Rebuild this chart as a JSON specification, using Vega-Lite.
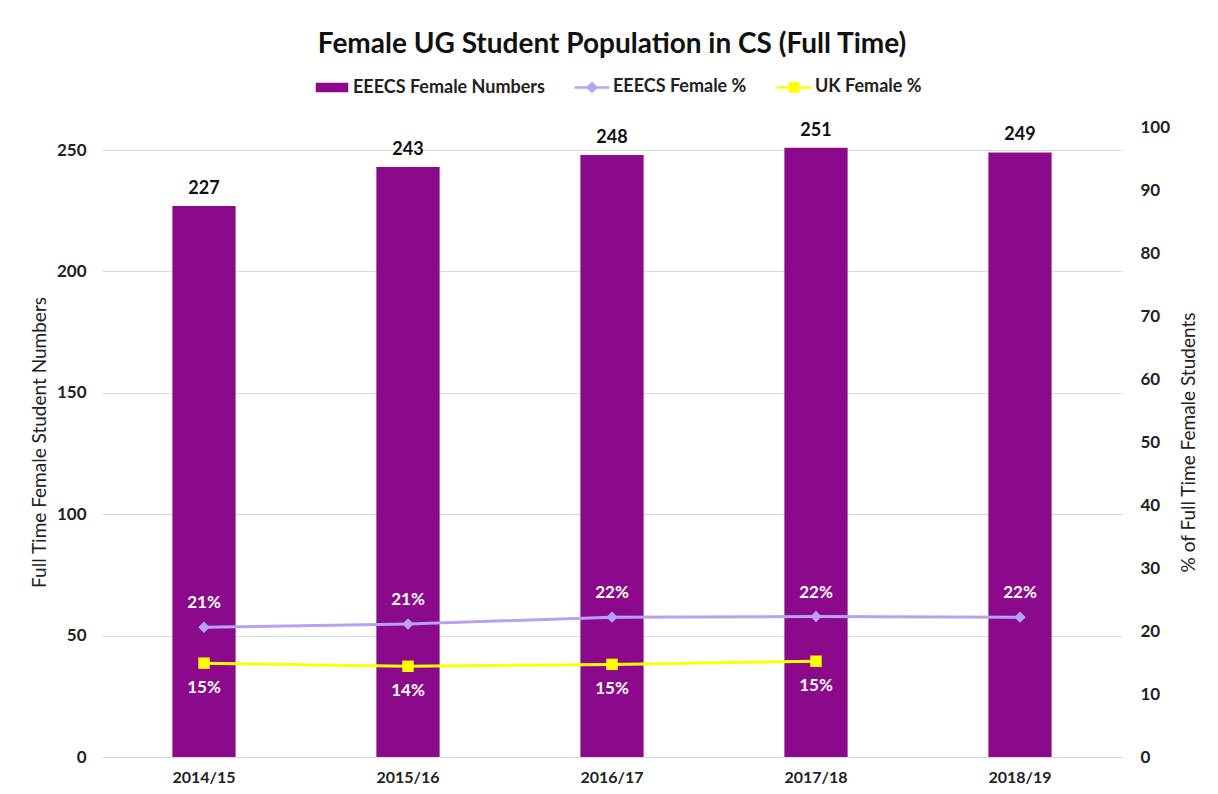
{
  "$schema": "https://vega.github.io/schema/vega-lite/v6.json",
  "width": 1020,
  "height": 630,
  "autosize": {"type": "none"},
  "padding": {"left": 102, "top": 127, "right": 96, "bottom": 37},
  "background": "white",
  "config": {
    "font": "Lato",
    "view": {"stroke": null},
    "axis": {"labelFont": "Lato", "titleFont": "Lato"},
    "legend": {
      "title": null,
      "orient": "none",
      "direction": "horizontal",
      "legendX": 221,
      "legendY": -49,
      "labelFont": "Lato",
      "labelFontSize": 18,
      "labelFontWeight": "bold",
      "labelColor": "#222222",
      "labelOffset": 12,
      "labelLimit": 0,
      "columnPadding": 24,
      "symbolSize": 144
    }
  },
  "title": {
    "text": "Female UG Student Population in CS (Full Time)",
    "font": "Lato",
    "fontSize": 28,
    "fontWeight": "bold",
    "color": "#111111",
    "anchor": "middle",
    "offset": 19
  },
  "datasets": {
    "bars": [
      {"year": "2014/15", "count": 227},
      {"year": "2015/16", "count": 243},
      {"year": "2016/17", "count": 248},
      {"year": "2017/18", "count": 251},
      {"year": "2018/19", "count": 249}
    ],
    "pct": [
      {"year": "2014/15", "series": "EEECS Female %", "pct": 20.6, "label": "21%"},
      {"year": "2015/16", "series": "EEECS Female %", "pct": 21.1, "label": "21%"},
      {"year": "2016/17", "series": "EEECS Female %", "pct": 22.2, "label": "22%"},
      {"year": "2017/18", "series": "EEECS Female %", "pct": 22.3, "label": "22%"},
      {"year": "2018/19", "series": "EEECS Female %", "pct": 22.2, "label": "22%"},
      {"year": "2014/15", "series": "UK Female %", "pct": 14.9, "label": "15%"},
      {"year": "2015/16", "series": "UK Female %", "pct": 14.4, "label": "14%"},
      {"year": "2016/17", "series": "UK Female %", "pct": 14.7, "label": "15%"},
      {"year": "2017/18", "series": "UK Female %", "pct": 15.2, "label": "15%"}
    ]
  },
  "encoding": {
    "x": {
      "field": "year",
      "type": "nominal",
      "scale": {"paddingInner": 0.69, "paddingOuter": 0.345},
      "axis": {
        "title": null,
        "labelAngle": 0,
        "labelFontSize": 16,
        "labelFontWeight": "bold",
        "labelColor": "#222222",
        "labelPadding": 12,
        "domain": false,
        "ticks": false
      }
    }
  },
  "layer": [
    {
      "data": {"name": "bars"},
      "layer": [
        {
          "mark": {"type": "bar", "opacity": 1},
          "encoding": {
            "y": {
              "field": "count",
              "type": "quantitative",
              "scale": {"domain": [0, 259.5], "nice": false},
              "axis": {
                "orient": "left",
                "title": "Full Time Female Student Numbers",
                "titleFontSize": 19,
                "titleFontWeight": "normal",
                "titleColor": "#222222",
                "titlePadding": 7,
                "values": [0, 50, 100, 150, 200, 250],
                "labelFontSize": 17,
                "labelFontWeight": "bold",
                "labelColor": "#222222",
                "labelPadding": 16,
                "domain": false,
                "ticks": false,
                "grid": true,
                "gridColor": "#D9D9D9",
                "gridWidth": 1
              }
            },
            "color": {
              "datum": "EEECS Female Numbers",
              "type": "nominal",
              "scale": {
                "domain": ["EEECS Female Numbers", "EEECS Female %", "UK Female %"],
                "range": ["#8B0A8B", "#B6A2F2", "#FFFF00"]
              },
              "legend": {
                "title": null,
                "encode": {
                  "symbols": {
                    "update": {
                      "shape": {"signal": "datum.value === 'EEECS Female Numbers' ? 'M-2.5,-0.6H2.5V0.6H-2.5Z' : datum.value === 'EEECS Female %' ? 'M-2.9,0H2.9M0,-0.7L0.7,0L0,0.7L-0.7,0Z' : 'M-2.9,0H2.9M-0.7,-0.7H0.7V0.7H-0.7Z'"},
                      "fill": {"scale": "color", "field": "value"},
                      "stroke": {"scale": "color", "field": "value"},
                      "strokeWidth": {"value": 2.5},
                      "opacity": {"value": 1},
                      "fillOpacity": {"value": 1},
                      "strokeOpacity": {"value": 1}
                    }
                  }
                }
              }
            }
          }
        },
        {
          "mark": {"type": "text", "baseline": "bottom", "dy": -8, "font": "Lato", "fontSize": 18, "fontWeight": "bold", "color": "#111111"},
          "encoding": {
            "y": {"field": "count", "type": "quantitative"},
            "text": {"field": "count", "type": "quantitative"}
          }
        }
      ]
    },
    {
      "data": {"name": "pct"},
      "layer": [
        {
          "mark": {"type": "line", "strokeWidth": 3},
          "encoding": {
            "y": {
              "field": "pct",
              "type": "quantitative",
              "scale": {"domain": [0, 100], "nice": false},
              "axis": {
                "orient": "right",
                "title": "% of Full Time Female Students",
                "titleAngle": 270,
                "titleFontSize": 19,
                "titleFontWeight": "normal",
                "titleColor": "#222222",
                "titlePadding": 29,
                "values": [0, 10, 20, 30, 40, 50, 60, 70, 80, 90, 100],
                "labelFontSize": 17,
                "labelFontWeight": "bold",
                "labelColor": "#222222",
                "labelPadding": 18,
                "domain": false,
                "ticks": false,
                "grid": false
              }
            },
            "color": {
              "field": "series",
              "type": "nominal",
              "legend": {
                "title": null,
                "encode": {
                  "symbols": {
                    "update": {
                      "shape": {"signal": "datum.value === 'EEECS Female Numbers' ? 'M-2.5,-0.6H2.5V0.6H-2.5Z' : datum.value === 'EEECS Female %' ? 'M-2.9,0H2.9M0,-0.7L0.7,0L0,0.7L-0.7,0Z' : 'M-2.9,0H2.9M-0.7,-0.7H0.7V0.7H-0.7Z'"},
                      "fill": {"scale": "color", "field": "value"},
                      "stroke": {"scale": "color", "field": "value"},
                      "strokeWidth": {"value": 2.5},
                      "opacity": {"value": 1},
                      "fillOpacity": {"value": 1},
                      "strokeOpacity": {"value": 1}
                    }
                  }
                }
              }
            }
          }
        },
        {
          "mark": {"type": "point", "filled": true, "opacity": 1},
          "encoding": {
            "y": {"field": "pct", "type": "quantitative"},
            "color": {"field": "series", "type": "nominal"},
            "shape": {
              "field": "series",
              "type": "nominal",
              "scale": {"domain": ["EEECS Female %", "UK Female %"], "range": ["diamond", "square"]},
              "legend": null
            },
            "size": {"value": 130}
          }
        },
        {
          "transform": [{"filter": "datum.series === 'EEECS Female %'"}],
          "mark": {"type": "text", "baseline": "middle", "dy": -24, "font": "Lato", "fontSize": 17, "fontWeight": "bold", "color": "white"},
          "encoding": {
            "y": {"field": "pct", "type": "quantitative"},
            "text": {"field": "label", "type": "nominal"}
          }
        },
        {
          "transform": [{"filter": "datum.series === 'UK Female %'"}],
          "mark": {"type": "text", "baseline": "middle", "dy": 25, "font": "Lato", "fontSize": 17, "fontWeight": "bold", "color": "white"},
          "encoding": {
            "y": {"field": "pct", "type": "quantitative"},
            "text": {"field": "label", "type": "nominal"}
          }
        }
      ]
    }
  ],
  "resolve": {"scale": {"y": "independent"}}
}
